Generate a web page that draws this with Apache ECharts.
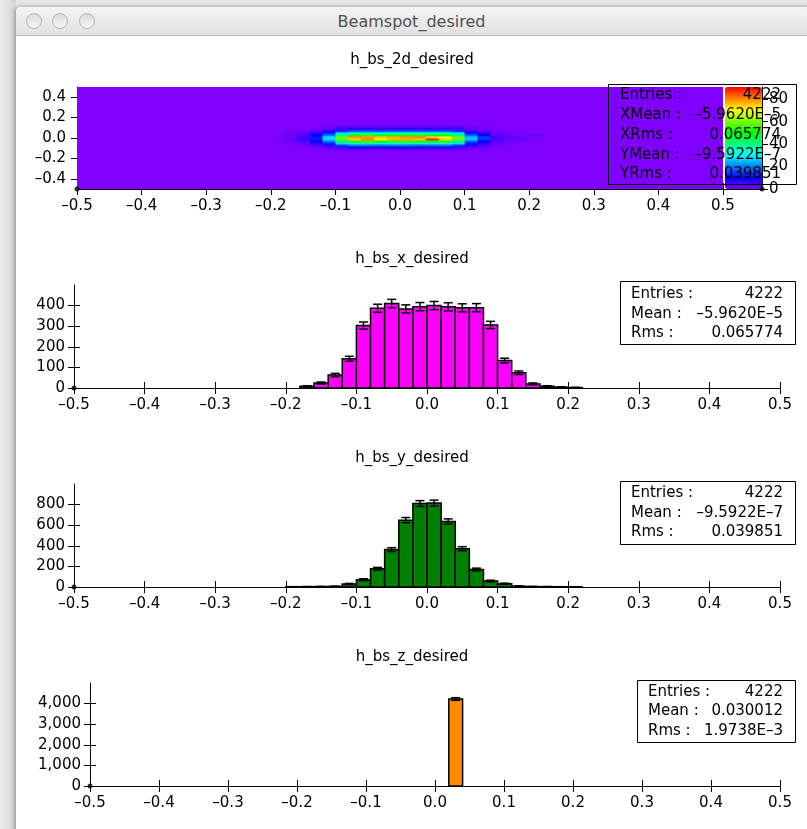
<!DOCTYPE html>
<html>
<head>
<meta charset="utf-8">
<script src="https://cdn.jsdelivr.net/npm/echarts@6/dist/echarts.min.js"></script>
<style>
html,body{margin:0;padding:0;width:807px;height:829px;overflow:hidden;background:#e6e6e6;font-family:"DejaVu Sans",sans-serif;}
#side{position:absolute;left:0;top:0;width:16px;height:829px;background:linear-gradient(to right,#ececec,#d4d4d4);}
#win{position:absolute;left:16px;top:7px;width:830px;height:840px;background:#fff;border-top-left-radius:5px;box-shadow:-1px 0 4px rgba(0,0,0,0.35);overflow:hidden;}
#titlebar{position:relative;height:28px;background:linear-gradient(#f4f4f4,#e1e1e1);border-bottom:1px solid #b8b8b8;}
#titletext{position:absolute;left:0;top:5px;width:791px;text-align:center;font-size:16px;line-height:19px;color:#505050;}
.light{position:absolute;top:6px;width:14px;height:14px;border-radius:50%;border:1px solid #b4b4b4;background:linear-gradient(#dadada,#f7f7f7);}
#chart{position:absolute;left:0;top:0;width:807px;height:829px;}
</style>
</head>
<body>
<div id="side"></div>
<div id="win">
  <div id="titlebar">
    <div class="light" style="left:10px"></div>
    <div class="light" style="left:36px"></div>
    <div class="light" style="left:63px"></div>
    <div id="titletext">Beamspot_desired</div>
  </div>
</div>
<div id="chart"></div>
<script>
// ---------------- data ----------------
const binLow = [-0.20,-0.18,-0.16,-0.14,-0.12,-0.10,-0.08,-0.06,-0.04,-0.02,0.00,0.02,0.04,0.06,0.08,0.10,0.12,0.14,0.16,0.18,0.20];
const binWidth = 0.02;
const hxCounts = [0,8,24,63,142,303,387,410,384,395,400,394,389,390,306,133,74,20,8,4,2];
const hyCounts = [2,3,4,6,29,71,177,363,649,810,815,636,372,170,58,32,8,4,3,2,1];
const hzBinLow = [0.02];
const hzCounts = [4222];

// 2D histogram: rows (y bin lower edges) x columns (binLow)
const h2dYLow = [-0.12,-0.10,-0.08,-0.06,-0.04,-0.02,0.00,0.02,0.04,0.06,0.08,0.10];
const h2dRowM12 = [0,0,0,0,1,2,3,3,2,3,3,3,2,3,2,1,1,0,0,0,0];
const h2dRowM10 = [0,0,0,1,2,5,8,8,7,8,8,7,8,7,5,2,1,0,0,0,0];
const h2dRowM08 = [0,0,1,3,7,15,19,19,18,19,19,18,18,19,15,7,4,1,0,0,0];
const h2dRowM06 = [0,1,2,6,13,28,36,38,35,36,37,36,35,36,28,12,7,2,1,0,0];
const h2dRowM04 = [0,1,4,10,20,42,53,56,52,54,55,53,52,54,41,18,10,3,1,1,0];
const h2dRowM02 = [0,2,5,12,27,58,74,80,72,76,77,75,88,74,59,26,14,4,2,1,0];
const h2dRowP00 = [1,1,5,12,28,59,79,79,75,77,79,80,74,70,59,25,15,4,2,1,1];
const h2dRowP02 = [0,1,4,10,20,40,52,55,51,53,53,54,51,52,41,18,10,3,1,1,1];
const h2dRowP04 = [0,1,2,6,13,28,35,37,34,36,36,35,35,36,28,12,7,2,1,0,0];
const h2dRowP06 = [0,0,1,3,7,14,18,18,17,18,18,18,17,18,14,6,3,1,0,0,0];
const h2dRowP08 = [0,0,0,1,2,5,7,7,6,6,7,6,7,6,5,2,1,0,0,0,0];
const h2dRowP10 = [0,0,0,0,1,3,3,3,3,3,3,3,3,3,3,1,1,0,0,0,0];
const h2dRows = [h2dRowM12,h2dRowM10,h2dRowM08,h2dRowM06,h2dRowM04,h2dRowM02,h2dRowP00,h2dRowP02,h2dRowP04,h2dRowP06,h2dRowP08,h2dRowP10];

const axisRange = [-0.5, 0.5];
const xTicks = [-0.5,-0.4,-0.3,-0.2,-0.1,0,0.1,0.2,0.3,0.4,0.5];
const y2dTicks = [-0.4,-0.2,0,0.2,0.4];
const hxYTicks = [0,100,200,300,400];   const hxYMax = 500;
const hyYTicks = [0,200,400,600,800];   const hyYMax = 1000;
const hzYTicks = [0,1000,2000,3000,4000]; const hzYMax = 5000;
const colorTicks = [0,20,40,60,80];     const colorMax = 91;

const titles = ['h_bs_2d_desired','h_bs_x_desired','h_bs_y_desired','h_bs_z_desired'];
const stats2d = [['Entries :','4222'],['XMean :','-5.9620E-5'],['XRms :','0.065774'],['YMean :','-9.5922E-7'],['YRms :','0.039851']];
const statsX = [['Entries :','4222'],['Mean :','-5.9620E-5'],['Rms :','0.065774']];
const statsY = [['Entries :','4222'],['Mean :','-9.5922E-7'],['Rms :','0.039851']];
const statsZ = [['Entries :','4222'],['Mean :','0.030012'],['Rms :','1.9738E-3']];

// ---------------- chart ----------------
const FONT = '"DejaVu Sans", sans-serif';
const dash = s => String(s).replace(/-/g, '\u2013');
const f1 = v => dash(Number(v).toFixed(1));
const fInt = v => String(Math.round(v));
const fComma = v => Math.round(v).toLocaleString('en-US');

const grids = [
  {left:77, top:87, width:685, height:102},   // 0: 2D
  {left:725, top:87, width:37, height:102},   // 1: colour bar
  {left:74, top:285, width:706, height:103},  // 2: x
  {left:74, top:484, width:706, height:103},  // 3: y
  {left:90, top:683, width:690, height:103}   // 4: z
].map(g => Object.assign({containLabel:false, outerBoundsMode:'none', show:false}, g));

const xAxes = [], yAxes = [];
const tickStyle = {color:'#000', width:1};
function addX(gi, min, max, ticks, fmt, margin, show) {
  const base = {type:'value', gridIndex:gi, min, max, position:'bottom', splitLine:{show:false}, show: show !== false};
  xAxes.push(Object.assign({}, base, {
    axisLine:{show:true, onZero:false, lineStyle:{color:'#000', width:1}},
    axisTick:{show:true, inside:false, length:6, customValues:ticks, lineStyle:tickStyle},
    axisLabel:{show:true, customValues:ticks, formatter:fmt, margin, color:'#000', fontSize:15, fontFamily:FONT}
  }));
  xAxes.push(Object.assign({}, base, {
    axisLine:{show:false, onZero:false},
    axisTick:{show:true, inside:true, length:6, customValues:ticks, lineStyle:tickStyle},
    axisLabel:{show:false}
  }));
}
function addY(gi, min, max, ticks, fmt, margin, pos) {
  const base = {type:'value', gridIndex:gi, min, max, position:pos, splitLine:{show:false}};
  yAxes.push(Object.assign({}, base, {
    axisLine:{show:true, onZero:false, lineStyle:{color:'#000', width:1}},
    axisTick:{show:true, inside:false, length:6, customValues:ticks, lineStyle:tickStyle},
    axisLabel:{show:true, customValues:ticks, formatter:fmt, margin, color:'#000', fontSize:15, fontFamily:FONT}
  }));
  yAxes.push(Object.assign({}, base, {
    axisLine:{show:false, onZero:false},
    axisTick:{show:true, inside:true, length:6, customValues:ticks, lineStyle:tickStyle},
    axisLabel:{show:false}
  }));
}
// grid 0: 2D (x axis runs on under the colour bar)
addX(0, axisRange[0], 0.5604, xTicks, f1, 10);
addY(0, axisRange[0], axisRange[1], y2dTicks, f1, 11, 'left');
// grid 1: colour bar
addX(1, 0, 1, [], fInt, 8, false);
addY(1, 0, colorMax, colorTicks, fInt, 7, 'right');
// grids 2-4
addX(2, axisRange[0], axisRange[1], xTicks, f1, 10);
addY(2, 0, hxYMax, hxYTicks, fInt, 9, 'left');
addX(3, axisRange[0], axisRange[1], xTicks, f1, 10);
addY(3, 0, hyYMax, hyYTicks, fInt, 9, 'left');
addX(4, axisRange[0], axisRange[1], xTicks, f1, 10);
addY(4, 0, hzYMax, hzYTicks, fComma, 9, 'left');

const AX = gi => ({xAxisIndex: 2*gi, yAxisIndex: 2*gi});

function histSeries(gi, lows, counts, color) {
  return Object.assign({
    type:'custom', silent:true, z:3,
    data: lows.map((x, i) => [x, counts[i]]),
    encode:{x:0, y:1},
    renderItem(params, api) {
      const x0 = api.value(0), n = api.value(1);
      if (!n) return null;
      const pTL = api.coord([x0, n]), pBR = api.coord([x0 + binWidth, 0]);
      const e = Math.sqrt(n);
      const xc = (pTL[0] + pBR[0]) / 2;
      const yt = api.coord([x0, n + e])[1], yb = api.coord([x0, Math.max(0, n - e)])[1];
      const cap = 4.5;
      const ls = {stroke:'#000', lineWidth:1.5};
      return {type:'group', children:[
        {type:'rect', shape:{x:pTL[0], y:pTL[1], width:pBR[0]-pTL[0], height:pBR[1]-pTL[1]},
         style:{fill:color, stroke:'#000', lineWidth:1.5}},
        {type:'line', shape:{x1:xc, y1:yt, x2:xc, y2:yb}, style:ls},
        {type:'line', shape:{x1:xc-cap, y1:yt, x2:xc+cap, y2:yt}, style:ls},
        {type:'line', shape:{x1:xc-cap, y1:yb, x2:xc+cap, y2:yb}, style:ls}
      ]};
    }
  }, AX(gi));
}

const cells2d = [];
h2dRows.forEach((row, r) => row.forEach((n, c) => cells2d.push([binLow[c], h2dYLow[r], n])));

function dot(gi, x, y) {
  return Object.assign({type:'scatter', silent:true, z:6, symbolSize:5, itemStyle:{color:'#000'}, data:[[x, y]]}, AX(gi));
}

const series = [
  // 0: empty-bin background of the 2D histogram
  Object.assign({
    type:'custom', silent:true, z:2,
    data:[[axisRange[0], axisRange[0], axisRange[1], axisRange[1]]],
    encode:{x:[0,2], y:[1,3]},
    renderItem(params, api) {
      const a = api.coord([api.value(0), api.value(3)]), b = api.coord([api.value(2), api.value(1)]);
      return {type:'rect', shape:{x:a[0], y:a[1], width:b[0]-a[0], height:b[1]-a[1]}, style:{fill:'#7f00ff'}};
    }
  }, AX(0)),
  // 1: 2D cells
  Object.assign({
    type:'custom', silent:true, z:3,
    data: cells2d,
    encode:{x:0, y:1},
    renderItem(params, api) {
      const x = api.value(0), y = api.value(1);
      const a = api.coord([x, y + binWidth]), b = api.coord([x + binWidth, y]);
      const col = api.visual('color');
      return {type:'rect', shape:{x:a[0], y:a[1], width:b[0]-a[0]+0.4, height:b[1]-a[1]+0.4}, style:{fill:col}};
    }
  }, AX(0)),
  histSeries(2, binLow, hxCounts, '#ff00ff'),
  histSeries(3, binLow, hyCounts, '#008000'),
  histSeries(4, hzBinLow, hzCounts, '#ff8c00'),
  dot(0, axisRange[0], axisRange[0]),
  dot(1, 1, 0),
  dot(2, axisRange[0], 0),
  dot(3, axisRange[0], 0),
  dot(4, axisRange[0], 0)
];

const TXT = {font:'15px ' + FONT, fill:'#000'};
const GZ = 100;
function titleText(t, y) {
  return {type:'text', x:412, y, z:GZ, style:Object.assign({text:t, align:'center', verticalAlign:'middle'}, TXT)};
}
function statBox(rows, box, labelX, valueRight, rowY, fill) {
  const els = [{type:'rect', z:GZ, shape:box, style:{fill:fill, stroke:'#000', lineWidth:1}}];
  rows.forEach((r, i) => {
    els.push({type:'text', z:GZ+1, x:labelX, y:rowY[i], style:Object.assign({text:r[0], align:'left', verticalAlign:'middle'}, TXT)});
    els.push({type:'text', z:GZ+1, x:valueRight, y:rowY[i], style:Object.assign({text:dash(r[1]), align:'right', verticalAlign:'middle'}, TXT)});
  });
  return els;
}

const option = {
  animation:false,
  backgroundColor:'transparent',
  grid: grids,
  xAxis: xAxes,
  yAxis: yAxes,
  visualMap: [{
    type:'continuous', seriesIndex:1, dimension:2, min:0, max:colorMax,
    inRange:{color:['#7f00ff','#0000ff','#007fff','#00ffff','#00ff7f','#00ff00','#7fff00','#ffff00','#ff7f00','#ff0000']},
    show:true, calculable:false, hoverLink:false, left:725, top:87, itemWidth:37, itemHeight:102,
    padding:0, text:null, orient:'vertical', z:4
  }],
  series,
  graphic: [].concat(
    [titleText(titles[0], 60), titleText(titles[1], 259), titleText(titles[2], 458), titleText(titles[3], 657)],
    statBox(stats2d, {x:608.5, y:84.5, width:188, height:100}, 620, 781, [95,115,135,155,174], 'transparent'),
    statBox(statsX, {x:620.5, y:281.5, width:175, height:63}, 631, 783, [294,314,333], '#fff'),
    statBox(statsY, {x:620.5, y:481.5, width:175, height:63}, 631, 783, [493,513,532], '#fff'),
    statBox(statsZ, {x:637.5, y:680.5, width:158, height:62}, 648, 783, [692,711,731], '#fff')
  )
};

const chart = echarts.init(document.getElementById('chart'), null, {renderer:'canvas'});
chart.setOption(option);
</script>
</body>
</html>
